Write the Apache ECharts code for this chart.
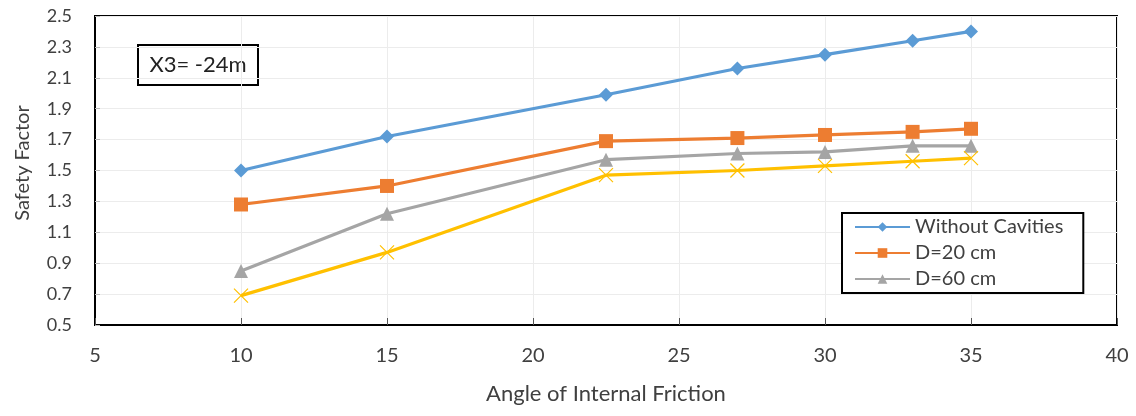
<!DOCTYPE html>
<html>
<head>
<meta charset="utf-8">
<script src="https://cdn.jsdelivr.net/npm/echarts@6/dist/echarts.min.js"></script>
<style>
html, body { margin: 0; padding: 0; background: #fff; }
#chart { width: 1136px; height: 416px; }
</style>
</head>
<body>
<div id="chart"></div>
<script>
var angles = [10, 15, 22.5, 27, 30, 33, 35];
var noCavity = [1.50, 1.72, 1.99, 2.16, 2.25, 2.34, 2.40];
var d20 = [1.28, 1.40, 1.69, 1.71, 1.73, 1.75, 1.77];
var d60 = [0.85, 1.22, 1.57, 1.61, 1.62, 1.66, 1.66];
var d100 = [0.69, 0.97, 1.47, 1.50, 1.53, 1.56, 1.58];
var seriesNames = ['Without Cavities', 'D=20 cm', 'D=60 cm', 'D=100 cm'];

var dom = document.getElementById('chart');
var myChart = echarts.init(dom);
var font = 'Lato';

function pairs(vals) {
    return vals.map(function (v, i) { return [angles[i], v]; });
}

function lineSeries(name, vals, color, symbol, size, extra) {
    var s = {
        name: name,
        type: 'line',
        data: pairs(vals),
        symbol: symbol,
        symbolSize: size,
        lineStyle: { color: color, width: 3.2 },
        itemStyle: { color: color },
        z: 3
    };
    if (extra) {
        for (var k in extra) s[k] = extra[k];
    }
    return s;
}

var option = {
    animation: false,
    textStyle: { fontFamily: font },
    grid: {
        left: 95, right: 19, top: 16, bottom: 91,
        show: true, borderColor: '#000', borderWidth: 2
    },
    xAxis: {
        type: 'value', min: 5, max: 40, interval: 5,
        name: 'Angle of Internal Friction',
        nameLocation: 'middle', nameGap: 58,
        nameTextStyle: { fontSize: 22, color: '#404040', fontFamily: font },
        axisLine: { show: true, lineStyle: { color: '#000', width: 2 } },
        axisTick: { show: true, inside: true, length: 7, lineStyle: { color: '#555' } },
        axisLabel: { fontSize: 20, color: '#404040', margin: 21, fontFamily: font },
        splitLine: { show: true, lineStyle: { color: '#ececec' } }
    },
    yAxis: {
        type: 'value', min: 0.5, max: 2.5, interval: 0.2,
        axisLine: { show: true, lineStyle: { color: '#000', width: 2 } },
        axisTick: { show: true, inside: true, length: 5, lineStyle: { color: '#bbb' } },
        axisLabel: {
            fontSize: 18, color: '#404040', margin: 23, fontFamily: font,
            formatter: function (v) { return v.toFixed(1); }
        },
        splitLine: { show: true, lineStyle: { color: '#ececec' } }
    },
    legend: {
        data: seriesNames.slice(0, 3),
        orient: 'vertical',
        left: 842, top: 213,
        padding: [4, 20, 4, 12],
        itemGap: 6,
        itemWidth: 55,
        itemHeight: 12,
        borderColor: '#000', borderWidth: 2,
        backgroundColor: '#fff',
        textStyle: { fontSize: 20, color: '#404040', fontFamily: font }
    },
    graphic: [{
        type: 'text',
        x: 23, y: 163,
        rotation: Math.PI / 2,
        style: {
            text: 'Safety Factor', fontSize: 20, fill: '#404040', fontFamily: font,
            textAlign: 'center', textVerticalAlign: 'middle'
        }
    }, {
        type: 'group',
        left: 137, top: 44,
        children: [{
            type: 'rect',
            shape: { x: 0, y: 0, width: 120, height: 40 },
            style: { fill: '#fff', stroke: '#000', lineWidth: 2 }
        }, {
            type: 'text',
            x: 60, y: 20,
            style: {
                text: 'X3= -24m', fontSize: 22, fill: '#222', fontFamily: font,
                textAlign: 'center', textVerticalAlign: 'middle'
            }
        }]
    }],
    series: [
        lineSeries(seriesNames[0], noCavity, '#5B9BD5', 'diamond', 14),
        lineSeries(seriesNames[1], d20, '#ED7D31', 'rect', 14),
        lineSeries(seriesNames[2], d60, '#A5A5A5', 'triangle', 14),
        lineSeries(seriesNames[3], d100, '#FFC000', 'path://M0,0L10,10M10,0L0,10', 14, {
            itemStyle: { color: 'none', borderColor: '#FFC000', borderWidth: 1.2 }
        })
    ]
};

if (option && typeof option === 'object') {
    myChart.setOption(option, true);
}
</script>
</body>
</html>
